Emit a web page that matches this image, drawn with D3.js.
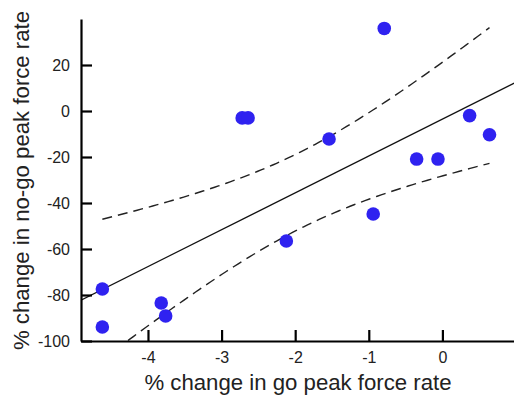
<!DOCTYPE html>
<html><head><meta charset="utf-8">
<script src="https://cdn.jsdelivr.net/npm/d3@7"></script>
<style>body{margin:0;background:#fff}svg{display:block}</style>
</head><body>
<svg id="c" width="514" height="396"></svg>
<script>
// Data
const goChange   = [-4.62, -4.62, -3.82, -3.76, -2.72, -2.64, -2.12, -1.54, -0.94, -0.79, -0.35, -0.06, 0.37, 0.64];
const nogoChange = [-77.4, -93.9, -83.5, -89.1, -3.0, -3.0, -56.5, -12.2, -44.8, 35.9, -20.9, -20.9, -2.0, -10.3];
const xTicks = [-4, -3, -2, -1, 0];
const yTicks = [-100, -80, -60, -40, -20, 0, 20];
const xLabel = "% change in go peak force rate";
const yLabel = "% change in no-go peak force rate";

(function () {
const svg = d3.select("#c");
const mLeft = 81, mRight = 516, mTop = 19, mBottom = 341;
const x = d3.scaleLinear().domain([-4.91, 1.0]).range([mLeft, mRight]);
const y = d3.scaleLinear().domain([-100, 40]).range([mBottom, mTop]);

// Linear regression and 95% confidence band of the mean
const n = goChange.length;
const mx = d3.mean(goChange), my = d3.mean(nogoChange);
let sxx = 0, sxy = 0;
for (let i = 0; i < n; i++) { sxx += (goChange[i]-mx)**2; sxy += (goChange[i]-mx)*(nogoChange[i]-my); }
const b = sxy / sxx, a = my - b * mx;
let ssr = 0;
for (let i = 0; i < n; i++) ssr += (nogoChange[i] - (a + b*goChange[i]))**2;
const s = Math.sqrt(ssr / (n - 2));
const tcrit = 2.179; // t(0.975, df=12)
const xmin = d3.min(goChange), xmax = d3.max(goChange);
const grid = d3.range(0, 101).map(i => xmin + (xmax - xmin) * i / 100);
const half = xv => tcrit * s * Math.sqrt(1/n + (xv - mx)**2 / sxx);

svg.append("defs").append("clipPath").attr("id","clip")
  .append("rect").attr("x", mLeft).attr("y", mTop).attr("width", 514-mLeft).attr("height", mBottom-mTop);

const g = svg.append("g").attr("clip-path","url(#clip)");
const line = d3.line().x(d => x(d[0])).y(d => y(d[1]));
g.append("path").attr("d", line([[-4.91, a + b*-4.91],[1.0, a + b*1.0]]))
  .attr("fill","none").attr("stroke","#111").attr("stroke-width",1.2);
g.append("path").attr("d", line(grid.map(v => [v, a + b*v + half(v)])))
  .attr("fill","none").attr("stroke","#222").attr("stroke-width",1.4).attr("stroke-dasharray","10,6");
g.append("path").attr("d", line(grid.map(v => [v, a + b*v - half(v)])))
  .attr("fill","none").attr("stroke","#222").attr("stroke-width",1.4).attr("stroke-dasharray","10,6");

svg.append("g").selectAll("circle").data(d3.range(n)).join("circle")
  .attr("cx", i => x(goChange[i])).attr("cy", i => y(nogoChange[i])).attr("r", 6.8)
  .attr("fill", "#2f22f0");

const font = "'Liberation Sans', Arial, Helvetica, sans-serif";
const fmt = d => String(d);
const xAxis = svg.append("g").attr("transform", `translate(0,${mBottom})`)
  .call(d3.axisBottom(x).tickValues(xTicks).tickFormat(fmt).tickSizeInner(-11).tickSizeOuter(0).tickPadding(9));
const yAxis = svg.append("g").attr("transform", `translate(${mLeft},0)`)
  .call(d3.axisLeft(y).tickValues(yTicks).tickFormat(fmt).tickSizeInner(-11).tickSizeOuter(0).tickPadding(11));
[xAxis, yAxis].forEach(ax => {
  ax.select(".domain").attr("stroke","#000").attr("stroke-width",2.2);
  ax.selectAll(".tick line").attr("stroke","#000").attr("stroke-width",2.2);
  ax.selectAll(".tick text").attr("fill","#222").style("font-family", font).style("font-size","16px");
});
xAxis.selectAll(".tick text").attr("dy","0.8em");

svg.append("text").attr("x", 298).attr("y", 390).attr("text-anchor","middle")
  .style("font-family", font).style("font-size","22.2px").attr("fill","#222").text(xLabel);
svg.append("text").attr("transform", `translate(28.5,180.5) rotate(-90)`).attr("text-anchor","middle")
  .style("font-family", font).style("font-size","22.2px").attr("fill","#222").text(yLabel);
})();
</script>
</body></html>
